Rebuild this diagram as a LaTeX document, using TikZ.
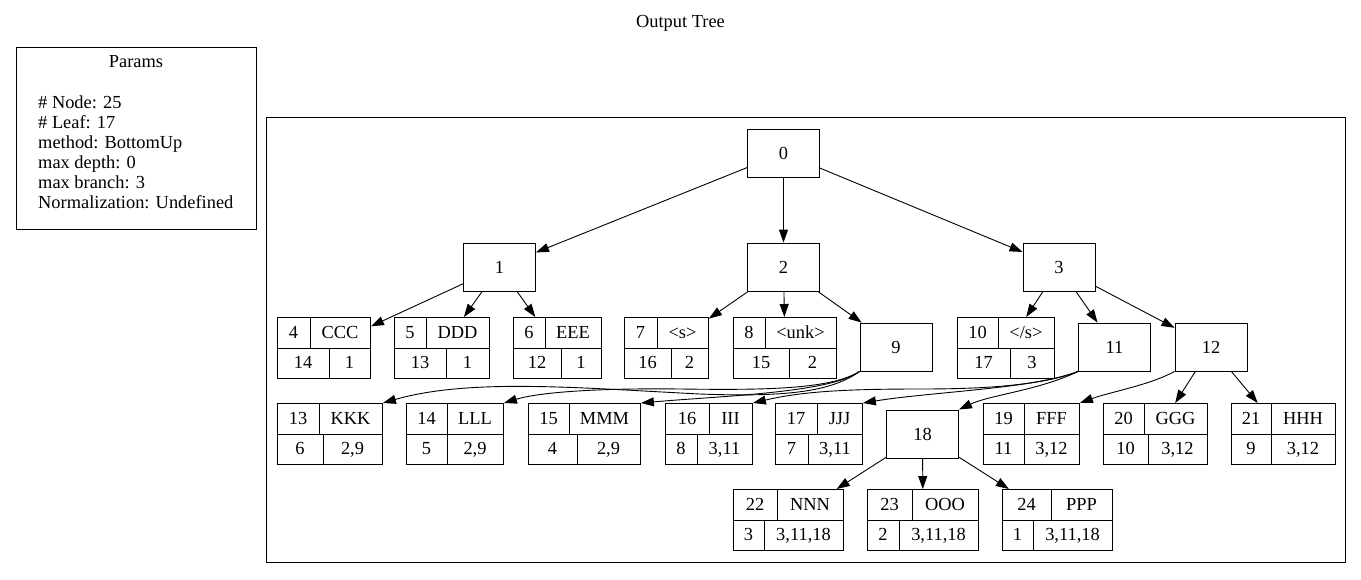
\documentclass[tikz,border=0pt]{standalone}
\usepackage{fontspec}
\setmainfont{Liberation Serif}
\usetikzlibrary{arrows.meta}
\tikzset{
  box/.style={draw, line width=0.9pt, minimum width=72pt, minimum height=48pt, inner sep=0pt},
  rec/.style={draw, line width=0.9pt, minimum height=61pt, inner sep=0pt, anchor=north west},
  cell/.style={anchor=base, inner sep=0pt},
  edge/.style={line width=0.9pt, -{Triangle[length=13pt,width=9pt]}}
}
\def\rowy{0}
\def\recnode(#1)(#2:#3:#4:#5)#6#7#8#9{%
  \node[rec, minimum width={(#3-#2)*1pt}] (#1) at (#2,\rowy) {};
  \draw[line width=0.9pt] (#2,\rowy+31) -- (#3,\rowy+31);
  \draw[line width=0.9pt] (#4,\rowy) -- (#4,\rowy+31);
  \draw[line width=0.9pt] (#5,\rowy+31) -- (#5,\rowy+61);
  \node[cell] (#1-a) at ({(#2+#4)/2},\rowy+21) {#6};
  \node[cell] (#1-b) at ({(#4+#3)/2},\rowy+21) {#7};
  \node[cell] (#1-c) at ({(#2+#5)/2},\rowy+51) {#8};
  \node[cell] (#1-d) at ({(#5+#3)/2},\rowy+51) {#9};
}

\begin{document}
\begin{tikzpicture}[x=1pt, y=-1pt, every node/.style={font=\fontsize{18.4pt}{20pt}\selectfont}]
		%%%%% START %%%%%
		\useasboundingbox (0,0) rectangle (1361,579);
		
		\node[anchor=base] (title) at (680.5,27) {Output Tree};
		
		\node[draw, line width=0.9pt, minimum width=240pt, minimum height=182pt, anchor=north west] (params) at (16,47) {};
		\node[anchor=base] (ptitle) at (136,67) {Params};
		\node[anchor=base west, inner sep=0pt] (p1) at (38,108) {\# Node: 25};
		\node[anchor=base west, inner sep=0pt] (p2) at (38,128) {\# Leaf: 17};
		\node[anchor=base west, inner sep=0pt] (p3) at (38,148) {method: BottomUp};
		\node[anchor=base west, inner sep=0pt] (p4) at (38,168) {max depth: 0};
		\node[anchor=base west, inner sep=0pt] (p5) at (38,188) {max branch: 3};
		\node[anchor=base west, inner sep=0pt] (p6) at (38,208) {Normalization: Undefined};
		
		\draw[line width=0.9pt] (266,117) rectangle (1345,562);
		
		\node[box] (n0) at (783.5,153) {0};
		\node[box] (n1) at (499.5,267) {1};
		\node[box] (n2) at (783.5,267) {2};
		\node[box] (n3) at (1059,267) {3};
		\node[box] (n9) at (896,347) {9};
		\node[box] (n11) at (1114.5,347) {11};
		\node[box] (n12) at (1211,347) {12};
		\node[box] (n18) at (922.5,434) {18};
		
		\def\rowy{317}
		\recnode(r4)(277:370:310:329){4}{CCC}{14}{1}
		\recnode(r5)(394:489:426:446){5}{DDD}{13}{1}
		\recnode(r6)(513:601:545:561){6}{EEE}{12}{1}
		\recnode(r7)(624:708:657:671){7}{<s>}{16}{2}
		\recnode(r8)(733:836:765:789){8}{<unk>}{15}{2}
		\recnode(r10)(957:1054:998:1010){10}{</s>}{17}{3}
		
		\def\rowy{403}
		\recnode(r13)(277:382:319:323){13}{KKK}{6}{2,9}
		\recnode(r14)(406:503:447:447){14}{LLL}{5}{2,9}
		\recnode(r15)(528:640:569:577){15}{MMM}{4}{2,9}
		\recnode(r16)(665:752:709:697){16}{III}{8}{3,11}
		\recnode(r17)(775:862:817:808){17}{JJJ}{7}{3,11}
		\recnode(r19)(983:1079:1024:1024){19}{FFF}{11}{3,12}
		\recnode(r20)(1103:1207:1144:1148){20}{GGG}{10}{3,12}
		\recnode(r21)(1231:1335:1271:1271){21}{HHH}{9}{3,12}
		
		\def\rowy{489}
		\recnode(r22)(733:843:777:764){22}{NNN}{3}{3,11,18}
		\recnode(r23)(867:978:912:899){23}{OOO}{2}{3,11,18}
		\recnode(r24)(1002:1112:1051:1033){24}{PPP}{1}{3,11,18}
		
		\draw[edge] (n0) -- (n1);
		\draw[edge] (n0) -- (n2);
		\draw[edge] (n0) -- (n3);
		
		\draw[edge] (n1) -- (r4);
		\draw[edge] (n1) -- (r5);
		\draw[edge] (n1) -- (r6);
		\draw[edge] (n2) -- (r7);
		\draw[edge] (n2) -- (r8);
		\draw[edge] (n2) -- (n9);
		\draw[edge] (n3) -- (r10);
		\draw[edge] (n3) -- (n11);
		\draw[edge] (n3) -- (n12);
		
		\draw[edge] (n9.south west) .. controls (830,393) and (780,397) .. (700,394) .. controls (580,388) and (470,378) .. (r13.north east);
		\draw[edge] (n9.south west) .. controls (830,390) and (760,390) .. (680,389) .. controls (600,388) and (540,392) .. (r14.north east);
		\draw[edge] (n9.south west) .. controls (830,393) and (720,396) .. (r15.north east);
		
		\draw[edge] (n11.south west) .. controls (1040,385) and (990,389) .. (920,389) .. controls (840,389) and (800,392) .. (r16.north east);
		\draw[edge] (n11.south west) .. controls (1040,388) and (930,392) .. (r17.north east);
		\draw[edge] (n11.south west) .. controls (1040,390) and (990,395) .. (n18.north east);
		
		\draw[edge] (n12.south west) .. controls (1150,385) and (1110,392) .. (r19.north east);
		\draw[edge] (n12) -- (r20);
		\draw[edge] (n12) -- (r21);
		
		\draw[edge] (n18) -- (r22);
		\draw[edge] (n18) -- (r23);
		\draw[edge] (n18) -- (r24);
		
		%%%%% END %%%%%
\end{tikzpicture}
\end{document}
